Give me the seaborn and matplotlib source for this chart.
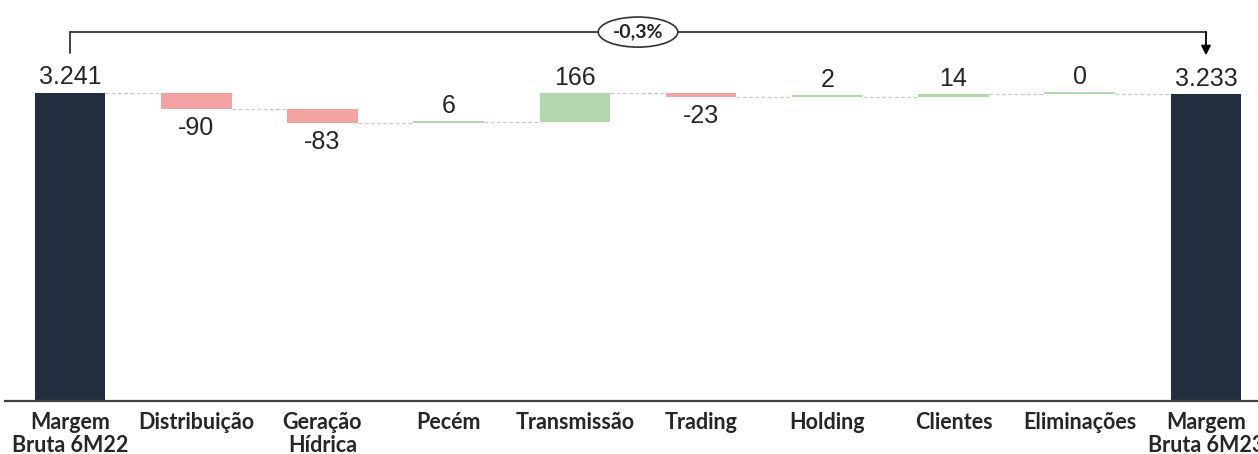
import matplotlib
matplotlib.use("Agg")
import matplotlib.pyplot as plt
import seaborn as sns
import numpy as np
from matplotlib.patches import Ellipse

# ---- data ----
categories = ["Margem\nBruta 6M22", "Distribuição", "Geração\nHídrica", "Pecém",
              "Transmissão", "Trading", "Holding", "Clientes", "Eliminações",
              "Margem\nBruta 6M23"]
start_total = 3241
deltas = [-90, -83, 6, 166, -23, 2, 14, 0]
end_total = 3233
value_labels = ["3.241", "-90", "-83", "6", "166", "-23", "2", "14", "0", "3.233"]
variation_label = "-0,3%"

# ---- styling ----
navy = "#222e3d"
red = "#f4a3a3"
green = "#b3d7ad"
connector = "#c8c8c8"
text_col = "#262626"

sns.set_theme(style="white")
plt.rcParams["font.family"] = ["Lato", "DejaVu Sans"]

# waterfall geometry derived from data
levels = [start_total]
for d in deltas:
    levels.append(levels[-1] + d)
min_h = 11  # minimum visible thickness in data units
bottoms, heights, colors = [0], [start_total], [navy]
for i, d in enumerate(deltas):
    base = levels[i]
    if d < 0:
        bottoms.append(base + d); heights.append(-d); colors.append(red)
    else:
        bottoms.append(base); heights.append(max(d, min_h)); colors.append(green)
bottoms.append(0); heights.append(end_total); colors.append(navy)

fig = plt.figure(figsize=(12.58, 4.54), dpi=100)
ax = fig.add_axes([5 / 1258, 53 / 454, 1 - 5 / 1258, 1 - 53 / 454])

bar_w = 0.56
sns.barplot(x=list(range(len(categories))), y=heights, hue=list(range(len(categories))),
            palette=colors, legend=False, width=bar_w, saturation=1, ax=ax,
            linewidth=0)
for p, b in zip(ax.patches, bottoms):
    p.set_y(b)

ax.set_ylim(1500, 3765)
ax.set_xlim(-0.515, 9.412)

# connectors
for i in range(len(categories) - 1):
    lvl = levels[i] if i < len(levels) else levels[-1]
    ax.plot([i + bar_w / 2, i + 1 - bar_w / 2], [lvl, lvl], color=connector,
            lw=0.9, ls=(0, (3, 2)), zorder=1)

# value labels
signs = [1] + [1 if d >= 0 else -1 for d in deltas] + [1]
for i, (lab, s) in enumerate(zip(value_labels, signs)):
    b, h = bottoms[i], heights[i]
    if s > 0:
        ax.annotate(lab, (i, b + h), xytext=(0, 6), textcoords="offset points",
                    ha="center", va="baseline", fontsize=18, color=text_col,
                    family=["Liberation Sans"])
    else:
        ax.annotate(lab, (i, b), xytext=(0, -5), textcoords="offset points",
                    ha="center", va="top", fontsize=18, color=text_col,
                    family=["Liberation Sans"])

# axis styling
for sp in ["left", "right", "top"]:
    ax.spines[sp].set_visible(False)
ax.spines["bottom"].set_color("#404040")
ax.spines["bottom"].set_linewidth(1.6)
ax.set_yticks([])
ax.set_xticks(range(len(categories)))
ax.set_xticklabels(categories, fontsize=15.5, fontweight="bold", color=text_col,
                   linespacing=1.12)
ax.tick_params(axis="x", length=0, pad=8)
ax.set_xlabel("")
ax.set_ylabel("")

# bracket annotation
tr = ax.get_xaxis_transform()
y_br = 0.920
ax.plot([0, 0], [0.868, y_br], color="#333333", lw=1.3, transform=tr, clip_on=False)
ax.plot([0, 9], [y_br, y_br], color="#333333", lw=1.3, transform=tr, clip_on=False)
ax.annotate("", xy=(9, 0.862), xytext=(9, y_br), xycoords=tr, textcoords=tr,
            arrowprops=dict(arrowstyle="-|>", color="black", lw=1.3,
                            mutation_scale=14, shrinkA=0, shrinkB=0))
mid = 4.5
ell = Ellipse((mid, y_br), width=0.63, height=0.075, transform=tr,
              facecolor="white", edgecolor="#333333", lw=1.2, zorder=5)
ax.add_patch(ell)
ax.text(mid, y_br, variation_label, transform=tr, ha="center", va="center",
        fontsize=14, fontweight="bold", color=text_col, zorder=6)

fig.savefig("out.png", dpi=100)
